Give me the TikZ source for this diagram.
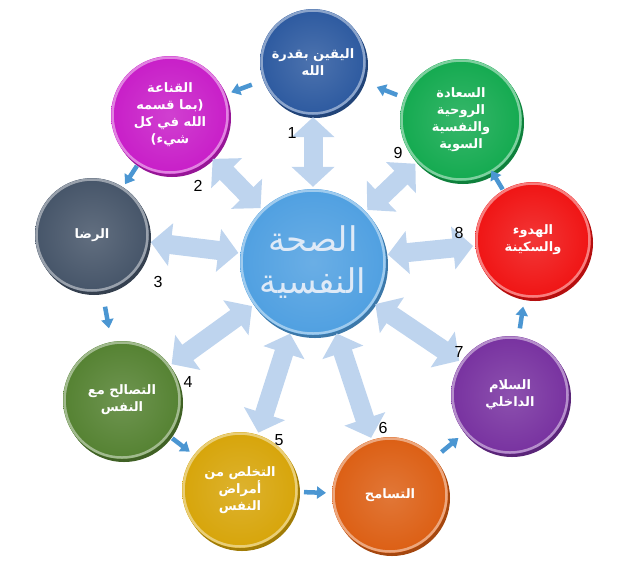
\documentclass[tikz,border=0pt]{standalone}
\usepackage{fontspec}
\setmainfont{Liberation Sans}
\newfontfamily\arabicfont[Script=Arabic]{DejaVu Sans}
\TeXXeTstate=1
\usetikzlibrary{arrows.meta,calc}
\definecolor{cYaq}{RGB}{45,90,160}
\definecolor{cQan}{RGB}{200,30,200}
\definecolor{cRid}{RGB}{70,85,105}
\definecolor{cTas}{RGB}{85,130,50}
\definecolor{cTak}{RGB}{215,165,10}
\definecolor{cTsm}{RGB}{220,95,20}
\definecolor{cSal}{RGB}{120,50,160}
\definecolor{cHud}{RGB}{240,20,20}
\definecolor{cSaa}{RGB}{20,170,80}
\definecolor{cCen}{RGB}{80,160,225}
\definecolor{cBig}{RGB}{190,212,238}
\definecolor{cSmall}{RGB}{75,150,210}
\newcommand{\AR}[1]{\beginR #1\endR}
\tikzset{
  ball/.style={circle, minimum size=#1, inner sep=0pt, align=center, text=white,
    font=\arabicfont\bfseries\fontsize{13}{17}\selectfont},
  bigarr/.style={draw=cBig, line width=19pt, {Triangle[width=42pt,length=20pt]}-{Triangle[width=42pt,length=20pt]}, shorten <=2pt, shorten >=2pt},
  smallarr/.style={draw=cSmall, line width=4.5pt, -{Triangle[width=12pt,length=9pt]}},
  num/.style={font=\fontsize{16}{16}\selectfont}
}
\begin{document}
\begin{tikzpicture}[x=1pt,y=-1pt]
\useasboundingbox (0,0) rectangle (640,571);
\newcommand{\Ball}[3]{%
  \fill[#2!75!black] (#1) ++(2,3) circle (#3);
  \shade[inner color=#2!85!white, outer color=#2] (#1) circle (#3);
  \draw[#2!55!white, line width=2.5pt] (#1) circle ({#3-1.5});
}
\coordinate (pc) at (313,262);
\coordinate (p1) at (313,62);
\coordinate (p2) at (170,115);
\coordinate (p3) at (92,235);
\coordinate (p4) at (122,400);
\coordinate (p5) at (240,490);
\coordinate (p6) at (390,495);
\coordinate (p7) at (510,395);
\coordinate (p8) at (533,240);
\coordinate (p9) at (461,120);
\Ball{p1}{cYaq}{53}
\Ball{p2}{cQan}{59}
\Ball{p3}{cRid}{57}
\Ball{p4}{cTas}{59}
\Ball{p5}{cTak}{58}
\Ball{p6}{cTsm}{58}
\Ball{p7}{cSal}{59}
\Ball{p8}{cHud}{58}
\Ball{p9}{cSaa}{61}
\Ball{pc}{cCen}{73}
\node[ball=106pt] (n1) at (p1) {\AR{اليقين بقدرة}\\\AR{الله}};
\node[ball=118pt] (n2) at (p2) {\AR{القناعة}\\\AR{(بما قسمه}\\\AR{الله في كل}\\\AR{شيء)}};
\node[ball=114pt] (n3) at (p3) {\AR{الرضا}};
\node[ball=118pt] (n4) at (p4) {\AR{التصالح مع}\\\AR{النفس}};
\node[ball=116pt] (n5) at (p5) {\AR{التخلص من}\\\AR{أمراض}\\\AR{النفس}};
\node[ball=116pt] (n6) at (p6) {\AR{التسامح}};
\node[ball=118pt] (n7) at (p7) {\AR{السلام}\\\AR{الداخلي}};
\node[ball=116pt] (n8) at (p8) {\AR{الهدوء}\\\AR{والسكينة}};
\node[ball=122pt] (n9) at (p9) {\AR{السعادة}\\\AR{الروحية}\\\AR{والنفسية}\\\AR{السوية}};
\node[ball=146pt, text=cBig!50!white, font=\arabicfont\fontsize{34}{42}\selectfont] (nc) at (pc) {\AR{الصحة}\\\AR{النفسية}};
\foreach \i in {1,...,9} \draw[bigarr] (nc) -- (n\i);
\foreach \a/\b in {1/2,2/3,3/4,4/5,5/6,6/7,7/8,8/9,9/1}{
  \coordinate (m\a) at ($(n\a)!0.5!(n\b)$);
  \draw[smallarr] ($(m\a)!11pt!(n\a)$) -- ($(m\a)!11pt!(n\b)$);
}
\node[num] (k1) at (292,133) {1};
\node[num] (k2) at (198,186) {2};
\node[num] (k3) at (158,282) {3};
\node[num] (k4) at (188,382) {4};
\node[num] (k5) at (279,440) {5};
\node[num] (k6) at (383,428) {6};
\node[num] (k7) at (459,352) {7};
\node[num] (k8) at (459,233) {8};
\node[num] (k9) at (398,153) {9};
\end{tikzpicture}
\end{document}
